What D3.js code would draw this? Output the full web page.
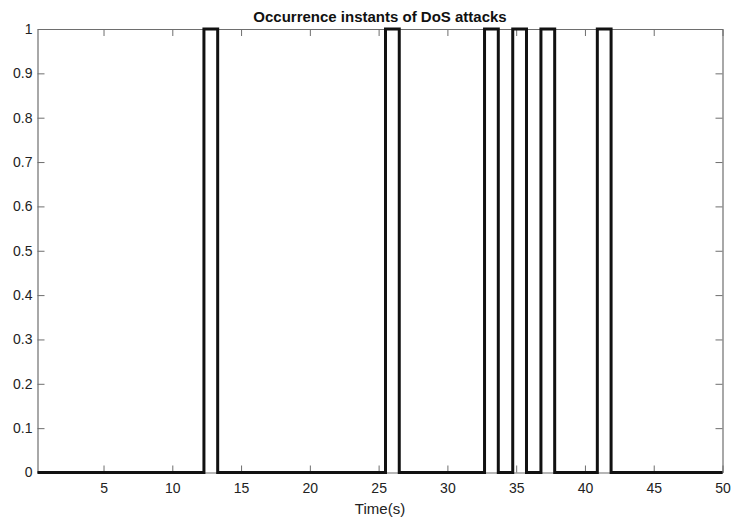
<!DOCTYPE html>
<html>
<head>
<meta charset="utf-8">
<script src="https://cdn.jsdelivr.net/npm/d3@7"></script>
<style>
body { margin: 0; background: #fff; }
text { font-family: "Liberation Sans", Arial, sans-serif; }
</style>
</head>
<body>
<script>
// attack intervals (s)
var attackStart = [12.3, 25.5, 32.7, 34.75, 36.8, 40.9];
var attackEnd = [13.3, 26.5, 33.7, 35.75, 37.8, 41.9];
var tStart = 0.2, tEnd = 50;
var xTicks = [5, 10, 15, 20, 25, 30, 35, 40, 45, 50];
var yTicks = [0, 0.1, 0.2, 0.3, 0.4, 0.5, 0.6, 0.7, 0.8, 0.9, 1];

var W = 734, H = 522;
var pLeft = 37.5, pRight = 722.5, pTop = 29, pBottom = 472.5;

var svg = d3.select('body').append('svg')
    .attr('width', W)
    .attr('height', H);

var x = d3.scaleLinear().domain([tStart, tEnd]).range([pLeft, pRight]);
var y = d3.scaleLinear().domain([0, 1]).range([pBottom, pTop]);

// build step signal
var pts = [[tStart, 0]];
attackStart.forEach(function(s, i) {
    pts.push([s, 0], [s, 1], [attackEnd[i], 1], [attackEnd[i], 0]);
});
pts.push([tEnd, 0]);

var axisColor = '#6e6e6e';

// axes with inward ticks
var gx = svg.append('g').attr('transform', 'translate(0,' + pBottom + ')')
    .call(d3.axisBottom(x).tickValues(xTicks).tickSizeInner(-7).tickSizeOuter(0).tickPadding(11));
var gxt = svg.append('g').attr('transform', 'translate(0,' + pTop + ')')
    .call(d3.axisTop(x).tickValues(xTicks).tickSizeInner(-7).tickSizeOuter(0).tickFormat(''));
var gy = svg.append('g').attr('transform', 'translate(' + pLeft + ',0)')
    .call(d3.axisLeft(y).tickValues(yTicks).tickSizeInner(-7).tickSizeOuter(0).tickPadding(5)
        .tickFormat(function(d) { return d; }));
var gyr = svg.append('g').attr('transform', 'translate(' + pRight + ',0)')
    .call(d3.axisRight(y).tickValues(yTicks).tickSizeInner(-7).tickSizeOuter(0).tickFormat(''));

[gx, gxt, gy, gyr].forEach(function(g) {
    g.select('.domain').attr('stroke', axisColor).attr('stroke-width', 1.2);
    g.selectAll('.tick line').attr('stroke', axisColor).attr('stroke-width', 1);
    g.selectAll('.tick text').attr('fill', '#222').style('font-size', '14px');
});

svg.append('path')
    .datum(pts)
    .attr('fill', 'none')
    .attr('stroke', '#111')
    .attr('stroke-width', 3)
    .attr('stroke-linejoin', 'miter')
    .attr('d', d3.line().x(function(d) { return x(d[0]); }).y(function(d) { return y(d[1]); }));

svg.append('text')
    .attr('x', (pLeft + pRight) / 2)
    .attr('y', 22)
    .attr('text-anchor', 'middle')
    .style('font-size', '15px')
    .style('font-weight', 'bold')
    .attr('fill', '#111')
    .text('Occurrence instants of DoS attacks');

svg.append('text')
    .attr('x', 380)
    .attr('y', 514)
    .attr('text-anchor', 'middle')
    .style('font-size', '15px')
    .attr('fill', '#222')
    .text('Time(s)');
</script>
</body>
</html>
